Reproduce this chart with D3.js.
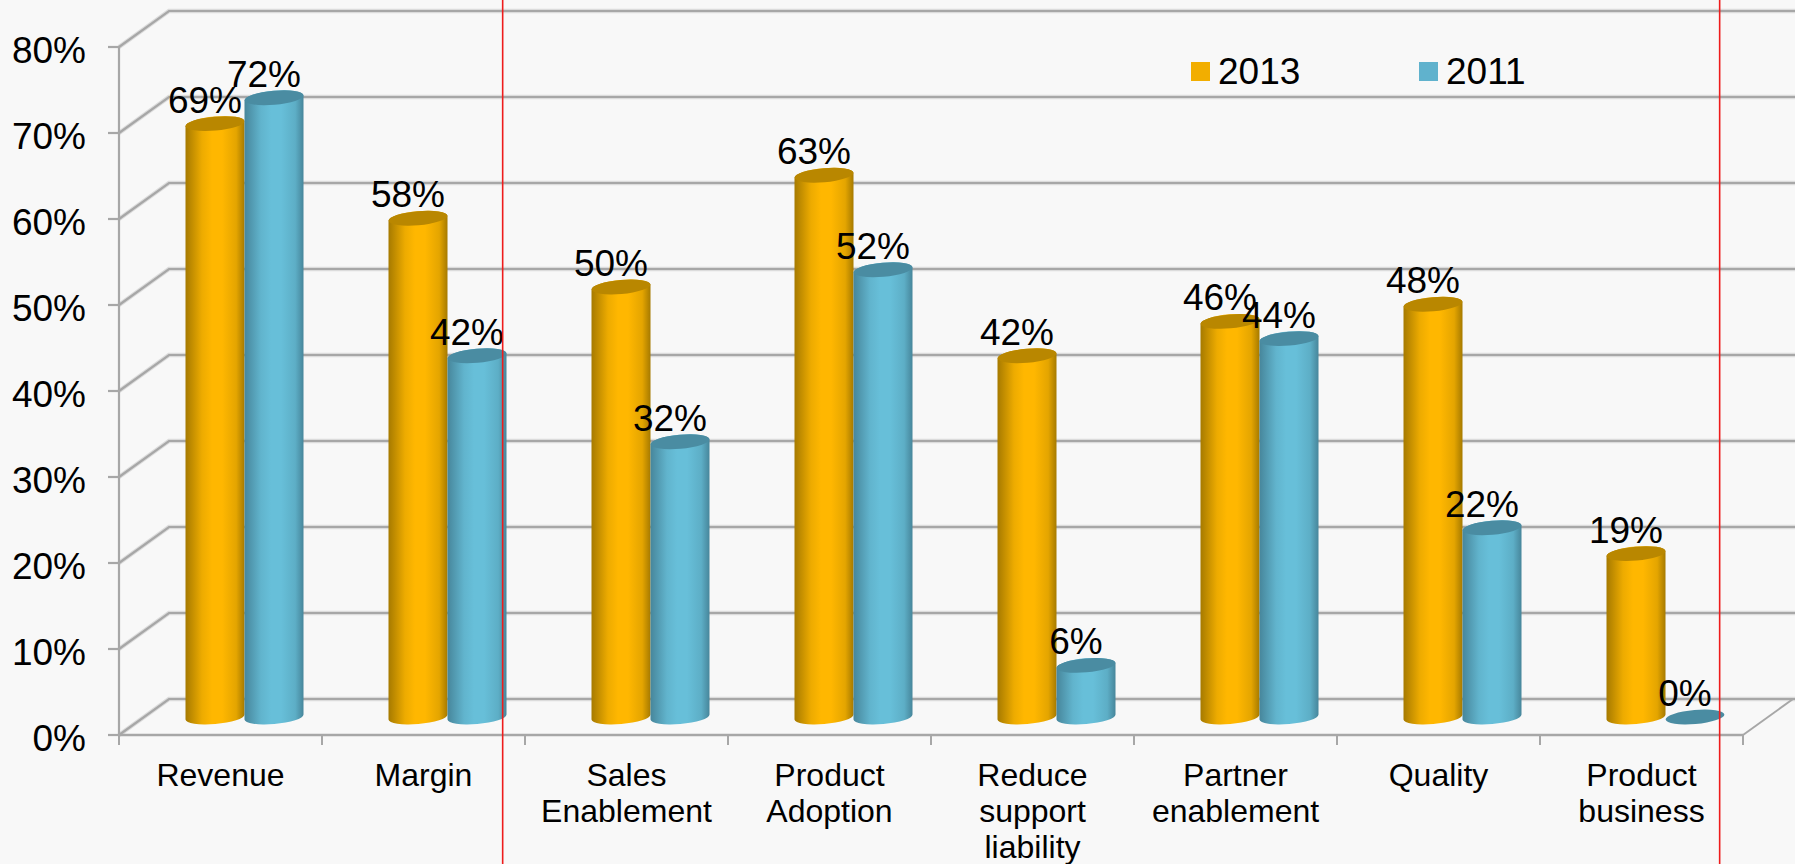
<!DOCTYPE html>
<html>
<head>
<meta charset="utf-8">
<script src="https://cdn.jsdelivr.net/npm/d3@7"></script>
<style>
  html, body { margin: 0; padding: 0; background: #f8f8f8; overflow: hidden; }
  svg { display: block; }
  text { font-family: "Liberation Sans", Arial, sans-serif; fill: #000; }
</style>
</head>
<body>
<svg id="chart" width="1795" height="864"></svg>
<script>
// Survey results by business goal, 2013 against 2011
const categories = [
  ["Revenue"],
  ["Margin"],
  ["Sales", "Enablement"],
  ["Product", "Adoption"],
  ["Reduce", "support", "liability"],
  ["Partner", "enablement"],
  ["Quality"],
  ["Product", "business"]
];
const values2013 = [69, 58, 50, 63, 42, 46, 48, 19];
const values2011 = [72, 42, 32, 52, 6, 44, 22, 0];
const seriesNames = ["2013", "2011"];
const yTicks = [0, 10, 20, 30, 40, 50, 60, 70, 80];

const palette = {
  "2013": { edge: "#a67a00", mid: "#ffb700", top: "#b98700", key: "#f2ae00" },
  "2011": { edge: "#47869b", mid: "#67bfd9", top: "#4a8ca2", key: "#60b2cd" }
};

const svg = d3.select("#chart");

// Front plane of the 3-D box, and how far its back wall is pushed away
const x = d3.scaleBand().domain(d3.range(categories.length)).range([119, 1743]);
const y = d3.scaleLinear().domain([0, 80]).range([735, 47]);
const depth = { dx: 50, dy: -36 };

const defs = svg.append("defs");
seriesNames.forEach(name => {
  const c = palette[name];
  const g = defs.append("linearGradient").attr("id", "cyl" + name);
  [[0, c.edge], [0.28, d3.interpolateRgb(c.edge, c.mid)(0.8)], [0.45, c.mid], [0.62, c.mid],
   [0.86, d3.interpolateRgb(c.edge, c.mid)(0.7)], [1, c.edge]].forEach(([o, col]) =>
    g.append("stop").attr("offset", o).attr("stop-color", col));
});

// Grid: back wall lines plus the diagonal returning to the front axis
const gridColor = "#a7a7a7";
const gridPath = v =>
  `M${x.range()[0]},${y(v)}L${x.range()[0] + depth.dx},${y(v) + depth.dy}L1795,${y(v) + depth.dy}`;
const grid = svg.append("g").attr("fill", "none");
grid.selectAll("path.halo").data(yTicks).join("path")
  .attr("class", "halo").attr("d", gridPath).attr("stroke", "#dcdcdc").attr("stroke-width", 4.5);
grid.selectAll("path.line").data(yTicks).join("path")
  .attr("class", "line").attr("d", gridPath).attr("stroke", gridColor).attr("stroke-width", 2.2);

// Right-hand edge of the floor
svg.append("line")
  .attr("x1", x.range()[1]).attr("y1", y(0))
  .attr("x2", x.range()[1] + depth.dx).attr("y2", y(0) + depth.dy)
  .attr("stroke", gridColor).attr("stroke-width", 2);

// Value axis
const yAxis = svg.append("g");
yAxis.append("line")
  .attr("x1", x.range()[0]).attr("x2", x.range()[0])
  .attr("y1", y(80)).attr("y2", y(0))
  .attr("stroke", gridColor).attr("stroke-width", 2.2);
yAxis.selectAll("line.tick").data(yTicks).join("line")
  .attr("class", "tick")
  .attr("x1", x.range()[0] - 11).attr("x2", x.range()[0])
  .attr("y1", d => y(d)).attr("y2", d => y(d))
  .attr("stroke", gridColor).attr("stroke-width", 2.2);
yAxis.selectAll("text").data(yTicks).join("text")
  .attr("x", 86).attr("y", d => y(d) + 16)
  .attr("text-anchor", "end").attr("font-size", 37)
  .text(d => d + "%");

// Category axis
const xAxis = svg.append("g");
xAxis.append("line")
  .attr("x1", x.range()[0]).attr("x2", x.range()[1])
  .attr("y1", y(0)).attr("y2", y(0))
  .attr("stroke", gridColor).attr("stroke-width", 2.5);
xAxis.selectAll("line.tick").data(d3.range(categories.length + 1)).join("line")
  .attr("class", "tick")
  .attr("x1", i => x.range()[0] + i * x.bandwidth())
  .attr("x2", i => x.range()[0] + i * x.bandwidth())
  .attr("y1", y(0)).attr("y2", y(0) + 10)
  .attr("stroke", gridColor).attr("stroke-width", 2);
xAxis.selectAll("text").data(categories).join("text")
  .attr("text-anchor", "middle").attr("font-size", 32)
  .each(function (lines, i) {
    d3.select(this).selectAll("tspan").data(lines).join("tspan")
      .attr("x", x(i) + x.bandwidth() / 2)
      .attr("y", (d, k) => 786 + k * 36)
      .text(d => d);
  });

// Cylinders stand halfway into the depth of the box
const barW = 59;
const rx = barW / 2, ry = 7, tilt = -5;
const lean = 2.5;   // vertical shift of the rim ends caused by the ellipse tilt
const groupW = 2 * barW;
const barsCentre = i => x(i) + x.bandwidth() / 2 + depth.dx / 2 - 1;
const baseY = v => y(v) + depth.dy / 2;

const rows = d3.range(categories.length).flatMap(i => [
  { i, name: "2013", v: values2013[i], cx: barsCentre(i) - groupW / 4 },
  { i, name: "2011", v: values2011[i], cx: barsCentre(i) + groupW / 4 }
]);

const bars = svg.append("g");
const ellipseArc = (sweep, tx, ty) => `A${rx},${ry} ${tilt} 0 ${sweep} ${tx},${ty}`;
rows.forEach(d => {
  const g = bars.append("g");
  const top = baseY(d.v), bot = baseY(0);
  if (d.v > 0) {
    g.append("path")
      .attr("fill", `url(#cyl${d.name})`)
      .attr("d",
        `M${d.cx - rx},${top + lean}L${d.cx - rx},${bot + lean}` +
        ellipseArc(0, d.cx + rx, bot - lean) +
        `L${d.cx + rx},${top - lean}` +
        ellipseArc(0, d.cx - rx, top + lean) + "Z");
  }
  g.append("ellipse")
    .attr("cx", d.cx).attr("cy", top)
    .attr("rx", rx).attr("ry", ry)
    .attr("transform", `rotate(${tilt} ${d.cx} ${top})`)
    .attr("fill", palette[d.name].top);
});

// Value labels sit over every bar
svg.append("g").selectAll("text").data(rows).join("text")
  .attr("x", d => d.cx - 10)
  .attr("y", d => baseY(d.v) - 11)
  .attr("text-anchor", "middle").attr("font-size", 37)
  .text(d => d.v + "%");

// Legend
const legendX = d3.scaleOrdinal().domain(seriesNames).range([1191, 1419]);
const legend = svg.append("g");
legend.selectAll("rect").data(seriesNames).join("rect")
  .attr("x", d => legendX(d)).attr("y", 62)
  .attr("width", 19).attr("height", 19)
  .attr("fill", d => palette[d].key);
legend.selectAll("text").data(seriesNames).join("text")
  .attr("x", d => legendX(d) + 27).attr("y", 84)
  .attr("font-size", 37)
  .text(d => d);

// Vertical red rules on top of the chart, placed in category widths past the axis start
const rulePositions = [1.89, 7.885];
const ruleX = p => x.range()[0] + p * x.bandwidth();
svg.append("g").selectAll("line").data(rulePositions).join("line")
  .attr("x1", d => ruleX(d)).attr("x2", d => ruleX(d))
  .attr("y1", 0).attr("y2", 864)
  .attr("stroke", "#ee1c1c").attr("stroke-width", 1.6);
</script>
</body>
</html>
